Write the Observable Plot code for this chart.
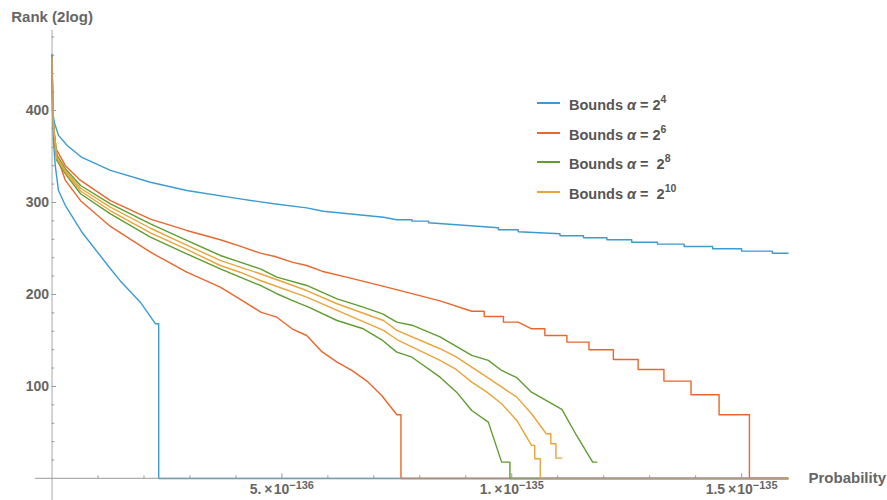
<!DOCTYPE html>
<html>
<head>
<meta charset="utf-8">
<script src="https://cdn.jsdelivr.net/npm/d3@7"></script>
<script src="https://cdn.jsdelivr.net/npm/@observablehq/plot@0.6"></script>
<style>
  html, body { margin: 0; padding: 0; background: #fff; }
  #wrap { position: relative; width: 887px; height: 500px; overflow: hidden; }
  #legend { position: absolute; left: 0; top: 0; font-family: "Liberation Sans", Arial, sans-serif; font-weight: bold; font-size: 14.5px; color: #555; }
  .lrow { position: absolute; display: flex; align-items: center; height: 20px; white-space: pre; }
  .lline { width: 23px; height: 0; border-top: 2px solid; margin-right: 9px; }
  .lrow sup { font-size: 10.5px; position: relative; top: -1px; }
</style>
</head>
<body>
<div id="wrap"><div id="legend"></div></div>
<script>
// ---- data (probability in units of 1e-136, rank in 2log) ----
const blueUpper = [[0,461],[0.01,400],[0.05,387],[0.14,373],[0.33,362],[0.65,349],[1.27,335],[2.14,322],[2.93,313],[4.09,304],[4.82,298.6],[5.54,294.2],[5.9,290.5],[7.21,284],[7.5,281.2],[7.83,281.2],[7.83,279.7],[8.19,279.7],[8.19,277.9],[9.71,272.5],[9.71,270.3],[10.14,270.3],[10.14,268.2],[11.05,266],[11.05,263.8],[11.56,263.8],[11.56,261.6],[12.07,261.6],[12.07,259.5],[12.61,259.5],[12.61,256.8],[13.17,256.8],[13.17,254.7],[13.75,254.7],[13.75,252.2],[14.37,252.2],[14.37,249.7],[15.0,249.7],[15.0,247.1],[15.67,247.1],[15.67,244.9],[16.01,244.9]];
const blueLower = [[0,461],[0.01,400],[0.03,367],[0.07,340],[0.14,313],[0.29,296.7],[0.65,267.7],[1.27,228],[1.48,215],[1.92,191.6],[2.25,168.1],[2.32,168.1],[2.32,0],[16.01,0]];
const orangeUpper = [[0,458],[0.02,390],[0.07,360],[0.29,340],[0.62,324],[1.27,302],[2.14,282],[2.93,269.6],[3.66,259.5],[4.09,252.5],[4.53,244.9],[4.85,241.3],[5.22,235.1],[5.54,231.5],[5.87,225.3],[6.56,217],[7.28,208],[8.44,193],[9.13,181.8],[9.4,181.8],[9.4,176.1],[9.82,176.1],[9.82,169.9],[10.14,169.9],[10.43,162.7],[10.72,162.7],[10.72,155.4],[11.2,155.4],[11.2,148.2],[11.68,148.2],[11.68,139.9],[12.21,139.9],[12.21,129.3],[12.75,129.3],[12.75,118.5],[13.31,118.5],[13.31,105.8],[13.9,105.8],[13.9,91],[14.51,91],[14.51,69.2],[15.17,69.2],[15.17,0],[16.01,0]];
const orangeLower = [[0,458],[0.02,385],[0.11,350],[0.29,324],[0.62,302],[1.27,274],[2.14,246],[2.93,224.2],[3.66,208],[4.13,193.5],[4.55,180.5],[4.89,175.3],[5.22,162.7],[5.54,155.4],[5.87,137.8],[6.2,126.4],[6.52,117.4],[6.85,105.8],[7.17,90.2],[7.5,69.2],[7.59,69.2],[7.59,0],[16.01,0]];
const greenUpper = [[0,457],[0.02,390],[0.1,352],[0.29,336.6],[0.62,318.5],[1.27,298.6],[2.14,276.8],[2.93,258.7],[3.66,242.4],[4.09,235.1],[4.53,227.9],[4.89,218.8],[5.54,209.8],[6.2,195.3],[6.77,186.2],[7.19,179],[7.5,169.9],[7.83,166.6],[8.44,154],[9.13,133.7],[9.49,128.3],[9.78,117.4],[10.11,109.5],[10.43,93.8],[11.09,75],[11.41,46.7],[11.76,17.7],[11.85,17.7]];
const yellowUpper = [[0,457],[0.02,389],[0.1,350],[0.29,334.5],[0.62,315.5],[1.27,295],[2.14,272],[2.93,253.6],[3.66,237],[4.09,229.7],[4.53,222.5],[5.54,204.3],[6.2,189.9],[7.21,171.7],[7.5,161],[8.44,141],[8.8,131.8],[9.46,110.1],[10.11,88.4],[10.43,70.3],[10.75,48.6],[10.85,48.6],[10.85,37.7],[10.96,37.7],[10.96,22.1],[11.09,22.1]];
const yellowLower = [[0,457],[0.02,388],[0.1,348],[0.29,333],[0.62,312.5],[1.27,291],[2.14,267],[2.93,249],[3.66,231.5],[4.09,224.2],[4.53,215.2],[5.54,197.1],[6.2,182.6],[7.21,160.9],[7.5,151],[8.44,128.3],[8.77,119.2],[9.13,104.7],[9.46,93.8],[9.78,81.2],[10.11,63],[10.43,35.9],[10.5,35.9],[10.5,21.4],[10.62,21.4],[10.62,0],[16.01,0]];
const greenLower = [[0,457],[0.02,386],[0.1,346],[0.29,331.2],[0.62,309.5],[1.27,287.7],[2.14,262.3],[2.93,244.2],[3.66,227.9],[4.09,218.8],[4.53,209.8],[4.89,200.8],[5.22,193.5],[5.58,186.2],[6.2,171.7],[6.77,162.7],[7.19,150],[7.5,137.3],[7.83,131.8],[8.44,110.1],[8.8,93.8],[9.13,73.9],[9.49,61.2],[9.78,17.7],[9.96,17.7],[9.96,0],[16.01,0]];

const yTickValues = [100, 200, 300, 400];
const yMinorTicks = [20,40,60,80,120,140,160,180,220,240,260,280,320,340,360,380,420,440,460,480];
const xTickValues = [5, 10, 15];
const xMinorTicks = [1,2,3,4,6,7,8,9,11,12,13,14];
const xTickMantissas = ["5.", "1.", "1.5"];
const xTickExponents = ["\u2212136", "\u2212135", "\u2212135"];

const legendPrefixes = ["Bounds ", "Bounds ", "Bounds ", "Bounds "];
const legendBases = [" = 2", " = 2", " =  2", " =  2"];
const legendExponents = ["4", "6", "8", "10"];
const seriesColors = ["#3b9bd2", "#ea662c", "#5f9d2f", "#e9a43a"];

// ---- chart ----
const FONT = '"Liberation Sans", Arial, sans-serif';
const AXIS = "#9a9a9a";
const TXT = "#666";
const LW = 1.4;
const line = (data, color) => Plot.line(data, {x: d => d[0], y: d => d[1], stroke: color, strokeWidth: LW});

const chart = Plot.plot({
  width: 887,
  height: 500,
  marginLeft: 35,
  marginRight: 99,
  marginTop: 30,
  marginBottom: 0,
  x: {domain: [-0.36, 16.02], axis: null},
  y: {domain: [-24, 487], axis: null},
  style: {fontFamily: FONT, background: "white", overflow: "visible"},
  marks: [
    Plot.ruleX(xMinorTicks, {x: d => d, y1: 0, y2: 2.8, stroke: AXIS}),
    Plot.ruleX(xTickValues, {x: d => d, y1: 0, y2: 5, stroke: AXIS}),
    Plot.ruleY(yMinorTicks, {y: d => d, x1: 0, x2: 0.06, stroke: AXIS}),
    Plot.ruleY(yTickValues, {y: d => d, x1: 0, x2: 0.1, stroke: AXIS}),
    Plot.text(yTickValues, {x: 0, y: d => d, text: d => String(d), dx: -3, textAnchor: "end", fontSize: 14, fontWeight: "bold", fill: TXT}),
    Plot.text(xTickValues, {x: d => d, y: 0, text: (d, i) => xTickMantissas[i] + "\u2009\u00d7\u200a10|" + xTickExponents[i], dy: 11, textAnchor: "middle", fontSize: 14, fontWeight: "bold", fill: TXT, className: "xlab"}),
    Plot.text(["Probability"], {x: 16.02, y: 0, text: d => d, dx: 20, textAnchor: "start", fontSize: 15, fontWeight: "bold", fill: TXT}),
    Plot.text(["Rank (2log)"], {x: 0, y: 487, text: d => d, dy: -13, textAnchor: "middle", fontSize: 15, fontWeight: "bold", fill: TXT}),
    line(blueUpper, seriesColors[0]),
    line(blueLower, seriesColors[0]),
    line(orangeUpper, seriesColors[1]),
    line(orangeLower, seriesColors[1]),
    line(greenUpper, seriesColors[2]),
    line(greenLower, seriesColors[2]),
    line(yellowUpper, seriesColors[3]),
    line(yellowLower, seriesColors[3]),
    Plot.ruleY([0], {x1: -0.36, x2: 16.02, stroke: AXIS, strokeWidth: 1.2, strokeOpacity: 0.8}),
    Plot.ruleX([0], {y1: -24, y2: 487, stroke: AXIS, strokeWidth: 1, strokeOpacity: 0.85})
  ]
});

document.getElementById("wrap").prepend(chart);

// superscript exponents in x tick labels
chart.querySelectorAll(".xlab text").forEach(t => {
  const [base, exp] = t.textContent.split("|");
  t.textContent = "";
  const ns = "http://www.w3.org/2000/svg";
  const a = document.createElementNS(ns, "tspan");
  a.textContent = base;
  const b = document.createElementNS(ns, "tspan");
  b.textContent = exp;
  b.setAttribute("font-size", "11");
  b.setAttribute("dy", "-4.5");
  t.appendChild(a);
  t.appendChild(b);
});

// legend
const legend = document.getElementById("legend");
legendExponents.forEach((e, i) => {
  const row = document.createElement("div");
  row.className = "lrow";
  row.style.left = "537px";
  row.style.top = Math.round(93 + i * 29.6) + "px";
  const l = document.createElement("span");
  l.className = "lline";
  l.style.borderColor = seriesColors[i];
  row.appendChild(l);
  const s = document.createElement("span");
  s.innerHTML = legendPrefixes[i] + "<i>\u03b1</i>" + legendBases[i] + "<sup>" + e + "</sup>";
  row.appendChild(s);
  legend.appendChild(row);
});
</script>
</body>
</html>
